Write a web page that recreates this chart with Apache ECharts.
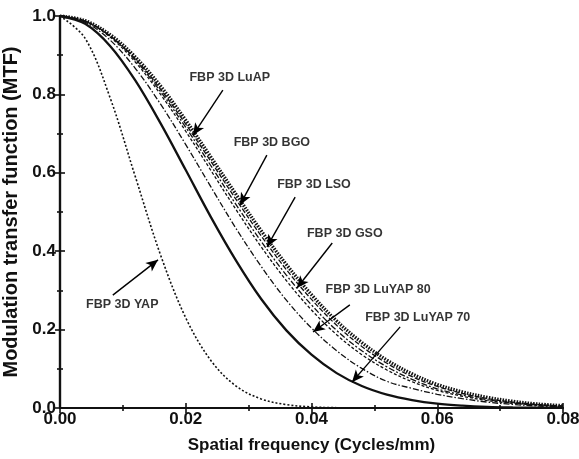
<!DOCTYPE html>
<html>
<head>
<meta charset="utf-8">
<script src="https://cdn.jsdelivr.net/npm/echarts@6/dist/echarts.min.js"></script>
<style>html,body{margin:0;padding:0;background:#fff}#c{width:579px;height:459px}</style>
</head>
<body>
<div id="c"></div>
<script>
const freq = [0,0.004,0.008,0.012,0.016,0.020,0.024,0.028,0.032,0.036,0.040,0.044,0.048,0.052,0.056,0.060,0.064,0.068,0.072,0.076,0.080];
const mtfYAP    = [1,0.943,0.790,0.589,0.390,0.230,0.121,0.056,0.023,0.0086,0.0028,0.0008,0.0002,0,0,0,0,0,0,0,0];
const mtfLuYAP70 = [1,0.980,0.923,0.835,0.726,0.607,0.487,0.376,0.278,0.198,0.136,0.089,0.056,0.034,0.020,0.011,0.006,0.003,0.0015,0.0007,0.0003];
const mtfLuYAP80 = [1,0.984,0.938,0.866,0.775,0.672,0.564,0.458,0.361,0.275,0.204,0.146,0.101,0.068,0.050,0.035,0.024,0.015,0.009,0.005,0.003];
const mtfGSO  = [1,0.986,0.946,0.882,0.800,0.706,0.606,0.506,0.411,0.325,0.250,0.187,0.136,0.097,0.067,0.045,0.030,0.019,0.012,0.007,0.004];
const mtfLSO  = [1,0.987,0.948,0.887,0.807,0.716,0.618,0.519,0.425,0.339,0.263,0.198,0.146,0.105,0.073,0.049,0.033,0.021,0.013,0.008,0.0048];
const mtfBGO  = [1,0.987,0.949,0.890,0.813,0.724,0.629,0.532,0.439,0.353,0.277,0.211,0.157,0.114,0.080,0.055,0.037,0.024,0.015,0.009,0.0055];
const mtfLuAP = [1,0.988,0.952,0.895,0.821,0.734,0.640,0.545,0.452,0.366,0.289,0.222,0.167,0.122,0.087,0.060,0.041,0.027,0.017,0.010,0.006];

// annotations: label text, label centre [x,y], arrow start [x,y], arrow tip [x,y] (data units)
const annNames = ['FBP 3D LuAP','FBP 3D BGO','FBP 3D LSO','FBP 3D GSO','FBP 3D LuYAP 80','FBP 3D LuYAP 70','FBP 3D YAP'];
const annText  = [[0.0270,0.842],[0.0337,0.676],[0.0404,0.569],[0.0453,0.446],[0.0506,0.301],[0.0569,0.232],[0.0099,0.263]];
const annFrom  = [[0.0259,0.811],[0.0329,0.645],[0.0374,0.538],[0.0433,0.421],[0.0461,0.263],[0.0541,0.207],[0.0084,0.288]];
const annTo    = [[0.02115,0.696],[0.02863,0.518],[0.03292,0.411],[0.03769,0.306],[0.04024,0.194],[0.04644,0.066],[0.01559,0.378]];

const xTicks = [0,0.02,0.04,0.06,0.08];
const yTicks = [0,0.2,0.4,0.6,0.8,1.0];

const pair = arr => freq.map((f,i)=>[f,arr[i]]);
const ink = '#111';
function mk(name, arr, width, type){
  return {name, type:'line', data:pair(arr), smooth:0.35, symbol:'none',
    lineStyle:{color:ink, width, type}, z:3, animation:false};
}
const font = '"Liberation Sans", Arial, sans-serif';
const series = [
  mk('YAP', mtfYAP, 1.6, [2,2]),
  mk('LuYAP70', mtfLuYAP70, 2.3, 'solid'),
  mk('LuYAP80', mtfLuYAP80, 1.3, [6,2,1.5,2]),
  mk('GSO', mtfGSO, 1.3, [3,2]),
  mk('LSO', mtfLSO, 1.3, [6,2,2,2]),
  mk('BGO', mtfBGO, 1.3, [5,2]),
  mk('LuAP', mtfLuAP, 3.4, [1.5,1.3]),
  {name:'labels', type:'scatter', symbolSize:0, animation:false,
    data: annText.map((p,i)=>({value:p, name:annNames[i]})),
    label:{show:true, position:'inside', formatter:p=>p.name, color:'#000',
      fontFamily:font, fontWeight:'bold', fontSize:12.5},
    markLine:{silent:true, animation:false, symbol:['none','arrow'], symbolSize:[8,12],
      lineStyle:{color:'#000', width:1.4, type:'solid'}, label:{show:false},
      data: annFrom.map((p,i)=>[{coord:p},{coord:annTo[i]}])}
  }
];
const axLine = {show:true, lineStyle:{color:ink, width:2.2}};
const tick = {inside:true, length:5, lineStyle:{color:ink,width:1.6}};
const minor = {show:true, splitNumber:2, length:3, lineStyle:{color:ink,width:1.6}};
const chart = echarts.init(document.getElementById('c'), null, {renderer:'canvas'});
chart.setOption({
  backgroundColor:'#fff',
  animation:false,
  grid:{left:60, right:16, top:16, bottom:51, containLabel:false, outerBoundsMode:'none'},
  xAxis:[{type:'value', min:0, max:0.08, interval:0.02, position:'bottom',
    axisLine:axLine, axisTick:tick, minorTick:minor, splitLine:{show:false},
    axisLabel:{formatter:v=>v.toFixed(2), color:'#111', fontFamily:font, fontWeight:'bold', fontSize:17, margin:3},
    name:'Spatial frequency (Cycles/mm)', nameLocation:'middle', nameGap:29,
    nameTextStyle:{color:'#111', fontFamily:font, fontWeight:'bold', fontSize:17}},
   {type:'value', min:0, max:0.08, interval:0.02, position:'top',
    axisLine:axLine, axisTick:tick, minorTick:minor, splitLine:{show:false}, axisLabel:{show:false}}],
  yAxis:[{type:'value', min:0, max:1, interval:0.2, position:'left',
    axisLine:axLine, axisTick:tick, minorTick:minor, splitLine:{show:false},
    axisLabel:{formatter:v=>v.toFixed(1), color:'#111', fontFamily:font, fontWeight:'bold', fontSize:17, margin:4},
    name:'Modulation transfer function (MTF)', nameLocation:'middle', nameGap:32,
    nameTextStyle:{color:'#111', fontFamily:font, fontWeight:'bold', fontSize:20}},
   {type:'value', min:0, max:1, interval:0.2, position:'right',
    axisLine:axLine, axisTick:tick, minorTick:minor, splitLine:{show:false}, axisLabel:{show:false}}],
  series
});
</script>
</body>
</html>
